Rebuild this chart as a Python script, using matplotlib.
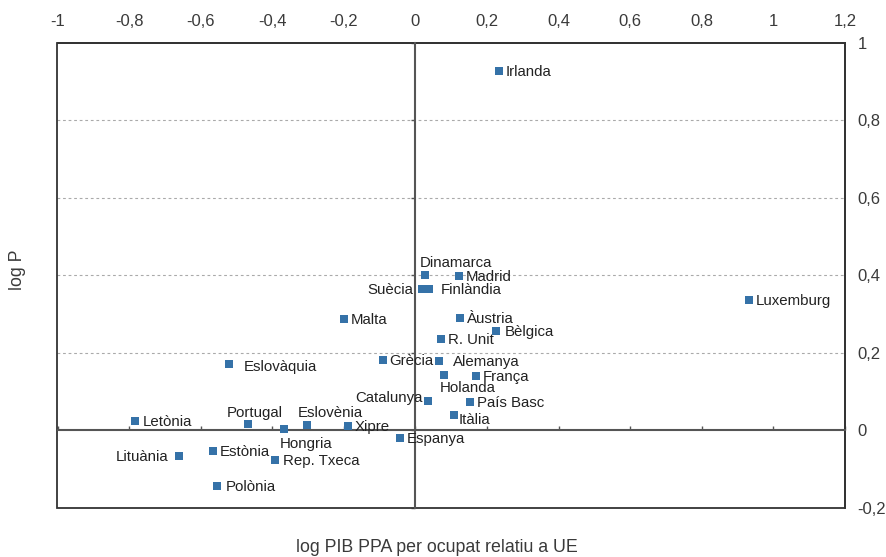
import matplotlib
matplotlib.use("Agg")
import matplotlib.pyplot as plt
from matplotlib.ticker import FuncFormatter
from matplotlib.patches import Rectangle

plt.rcParams['font.family'] = ['Liberation Sans', 'DejaVu Sans']

# ---- data ----
names = ["Irlanda", "Luxemburg", "Dinamarca", "Madrid", "Suècia", "Finlàndia",
         "Àustria", "Bèlgica", "Malta", "R. Unit", "Grècia", "Alemanya",
         "Eslovàquia", "Holanda", "França", "Catalunya", "País Basc", "Itàlia",
         "Xipre", "Espanya", "Letònia", "Portugal", "Eslovènia", "Hongria",
         "Lituània", "Estònia", "Rep. Txeca", "Polònia"]
log_pib = [0.233, 0.932, 0.026, 0.121, 0.019, 0.038,
           0.124, 0.224, -0.200, 0.072, -0.092, 0.065,
           -0.520, 0.079, 0.168, 0.036, 0.153, 0.108,
           -0.189, -0.043, -0.784, -0.468, -0.303, -0.368,
           -0.661, -0.566, -0.391, -0.554]
log_p = [0.927, 0.337, 0.402, 0.399, 0.365, 0.365,
         0.291, 0.257, 0.288, 0.237, 0.182, 0.180,
         0.172, 0.144, 0.141, 0.076, 0.073, 0.040,
         0.012, -0.019, 0.025, 0.017, 0.013, 0.004,
         -0.066, -0.053, -0.077, -0.143]
x_ticks = [-1, -0.8, -0.6, -0.4, -0.2, 0, 0.2, 0.4, 0.6, 0.8, 1, 1.2]
y_ticks = [-0.2, 0, 0.2, 0.4, 0.6, 0.8, 1]
x_label = "log PIB PPA per ocupat relatiu a UE"
y_label = "log P"

# label placement (pixel offsets, alignment) -- style only
label_style = {
    "Dinamarca": (-5, 12, "left"),
    "Suècia": (-9, -1, "right"),
    "Finlàndia": (12, -1, "left"),
    "Bèlgica": (9, -1, "left"),
    "Alemanya": (14, -1, "left"),
    "Eslovàquia": (14, -3, "left"),
    "Holanda": (-4, -13, "left"),
    "Catalunya": (-6, 3, "right"),
    "Itàlia": (5, -5, "left"),
    "Portugal": (7, 11, "center"),
    "Eslovènia": (-9, 12, "left"),
    "Hongria": (-4, -15, "left"),
    "Lituània": (-10, -1, "right"),
    "Polònia": (9, -1, "left"),
    "Rep. Txeca": (8, -1, "left"),
    "Letònia": (8, -1, "left"),
}

fig = plt.figure(figsize=(8.87, 5.57), dpi=100)
ax = fig.add_axes([57.5 / 887, (557 - 508) / 557, (845 - 57.5) / 887, (508 - 42.7) / 557])

ax.set_xlim(-1, 1.2)
ax.set_ylim(-0.2, 1)

# horizontal dotted grid
for yv in y_ticks:
    if yv not in (-0.2, 0, 1):
        ax.axhline(yv, color='#aaaaaa', lw=0.8, ls=(0, (2.5, 2.5)), zorder=1)

ax.scatter(log_pib, log_p, marker='s', s=30, color='#3572a8', zorder=4, linewidths=0)

for n, xv, yv in zip(names, log_pib, log_p):
    dx, dy, ha = label_style.get(n, (7, -1, "left"))
    ax.annotate(n, (xv, yv), xytext=(dx, dy), textcoords='offset pixels',
                ha=ha, va='center', fontsize=10.8, color='#222222', zorder=5)

# zero-line spines
ax.spines['left'].set_position(('data', 0))
ax.spines['bottom'].set_position(('data', 0))
for s in ('left', 'bottom'):
    ax.spines[s].set_color('#555555')
    ax.spines[s].set_linewidth(1.5)
    ax.spines[s].set_zorder(3)
for s in ('top', 'right'):
    ax.spines[s].set_color('#333333')
    ax.spines[s].set_linewidth(1.3)

# frame bottom/left edges
ax.add_patch(Rectangle((0, 0), 1, 1, transform=ax.transAxes, fill=False,
                       edgecolor='#333333', lw=1.3, clip_on=False, zorder=3))

fmt = FuncFormatter(lambda v, p: ("%g" % round(v, 2)).replace('.', ',') if abs(v) > 1e-9 else "0")
ax.set_xticks(x_ticks)
ax.set_yticks(y_ticks)
ax.xaxis.set_major_formatter(fmt)
ax.yaxis.set_major_formatter(fmt)

ax.tick_params(axis='x', bottom=True, top=False, labelbottom=False, labeltop=True,
               direction='in', length=3, width=1, color='#555555', pad=10,
               labelsize=12, labelcolor='#3a3a3a')
ax.tick_params(axis='y', left=True, right=False, labelleft=False, labelright=True,
               direction='out', length=3, width=1, color='#555555', pad=6,
               labelsize=12, labelcolor='#3a3a3a')

fig.text(437 / 887, 1 - 547 / 557, x_label, ha='center', va='center', fontsize=12.8, color='#3a3a3a')
fig.text(18 / 887, 1 - 270 / 557, y_label, ha='center', va='center', rotation=90, fontsize=12.8, color='#3a3a3a')

fig.savefig("out.png", dpi=100)
